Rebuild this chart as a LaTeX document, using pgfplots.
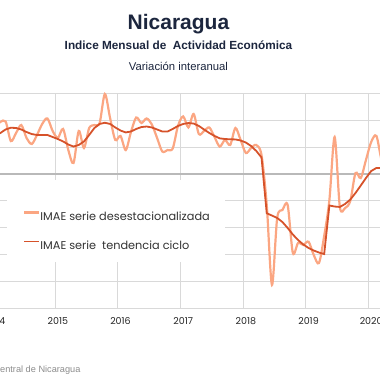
\documentclass[border=0pt]{standalone}
\usepackage{fontspec}
\setmainfont{Liberation Sans}
\newfontfamily\gothic{Poppins}
\usepackage{pgfplots}
\usepackage{pgfplotstable}
\pgfplotsset{compat=1.18}
\definecolor{lightser}{RGB}{251,166,130}
\definecolor{darkser}{RGB}{214,82,42}
\definecolor{titlecol}{RGB}{28,38,62}
\definecolor{gridcol}{RGB}{217,217,217}
\definecolor{zerocol}{RGB}{185,185,185}
\definecolor{srccol}{RGB}{140,140,140}
\pgfplotstableread{
m desest tend
0 3.57 2.83
1 3.87 3.05
2 3.90 3.31
3 2.45 3.44
4 3.05 3.42
5 3.64 3.31
6 2.68 3.12
7 2.23 2.97
8 2.90 2.90
9 3.72 2.90
10 4.13 2.90
11 3.20 2.75
12 2.68 2.60
13 3.35 2.42
14 1.78 2.19
15 0.82 2.04
16 3.20 2.16
17 1.93 2.42
18 3.42 2.90
19 3.64 3.42
20 3.79 3.72
21 5.95 3.81
22 4.16 3.72
23 2.53 3.46
24 2.83 3.23
25 1.78 3.09
26 3.12 3.16
27 4.20 3.35
28 3.79 3.49
29 4.13 3.53
30 3.68 3.46
31 2.68 3.31
32 1.67 3.16
33 1.78 3.16
34 1.90 3.35
35 3.57 3.57
36 4.28 3.72
37 3.46 3.79
38 4.46 3.75
39 2.97 3.57
40 3.20 3.31
41 3.46 3.05
42 2.75 2.83
43 2.04 2.65
44 2.53 2.60
45 2.16 2.58
46 3.42 2.57
47 2.53 2.49
48 1.56 2.34
49 1.93 2.08
50 2.16 1.71
51 1.41 1.23
52 -2.30 -2.92
53 -8.25 -3.09
54 -3.27 -3.27
55 -2.68 -3.57
56 -2.30 -4.01
57 -5.87 -4.50
58 -5.13 -4.91
59 -5.28 -5.24
60 -5.03 -5.50
61 -6.02 -5.69
62 -6.62 -5.84
63 -4.61 -5.95
64 -1.93 -2.34
65 2.75 -2.42
66 -2.45 -2.45
67 -2.53 -2.23
68 -2.01 -1.90
69 0.07 -1.41
70 -0.30 -0.86
71 1.04 -0.30
72 2.38 0.22
73 2.83 0.45
74 1.04 0.45
75 0.67 0.45
}\datatab
\begin{document}
\begin{tikzpicture}
\begin{axis}[
  x=5.222pt, y=13.45pt,
  xmin=-0.5, xmax=78, ymin=-10, ymax=6,
  clip=false,
  axis line style={draw=none},
  major tick length=0pt,
  xtick={11.5,23.5,35.5,47.5,59.5,71.5}, xticklabels={},
  ytick={-10,-8,-6,-4,-2,2,4,6}, yticklabels={},
  xmajorgrids, ymajorgrids,
  grid style={gridcol, line width=0.9pt},
  extra y ticks={0}, extra y tick labels={},
  extra y tick style={grid style={zerocol, line width=1.4pt}},
  extra x ticks={0,12,24,36,48,60,72},
  extra x tick labels={2014,2015,2016,2017,2018,2019,2020},
  extra x tick style={grid=none, xticklabel style={anchor=base, yshift=-16pt, font=\gothic\fontsize{9.5}{10}\selectfont, text=black!85}},
  legend cell align=left,
  legend style={at={(axis cs:5.32,-2.773)}, anchor=north west, draw=none, fill=none, inner sep=0pt,
    row sep=18pt, font=\gothic\fontsize{11.3}{12}\selectfont, text=black!80,
    nodes={inner sep=0pt, text height=8pt, text depth=2pt},
    /tikz/every even column/.append style={column sep=1.5pt}},
]
\fill[white] (axis cs:2.26,-0.45) rectangle (axis cs:44,-6.54);
\addplot[lightser, line width=2.2pt, smooth,
  legend image code/.code={\draw[lightser, line width=2.2pt] (0pt,5pt) -- (15pt,5pt);}] table[x=m, y=desest] {\datatab};
\addlegendentry{IMAE serie desestacionalizada}
\addplot[darkser, line width=1.8pt,
  legend image code/.code={\draw[darkser, line width=1.8pt] (0pt,5pt) -- (15pt,5pt);}] table[x=m, y=tend] {\datatab};
\addlegendentry{IMAE serie\ \ tendencia ciclo}
\node[anchor=base, font=\bfseries\fontsize{21}{24}\selectfont, text=titlecol] at (axis cs:35.1,10.71) {Nicaragua};
\node[anchor=base, font=\bfseries\fontsize{11.8}{14}\selectfont, text=titlecol] at (axis cs:35.1,9.22) {Indice Mensual de\ \ Actividad Económica};
\node[anchor=base, font=\fontsize{11.3}{13}\selectfont, text=titlecol] at (axis cs:35.1,7.66) {Variación interanual};
\node[anchor=base east, font=\fontsize{9.2}{11}\selectfont, text=srccol, inner sep=0pt] at (axis cs:16.37,-14.76) {Fuente: Banco Central de Nicaragua};
\coordinate (bbA) at (axis cs:0.919,-15.316);
\coordinate (bbB) at (axis cs:73.69,12.937);
\end{axis}
\pgfresetboundingbox
\useasboundingbox (bbA) rectangle (bbB);
\end{tikzpicture}
\end{document}
